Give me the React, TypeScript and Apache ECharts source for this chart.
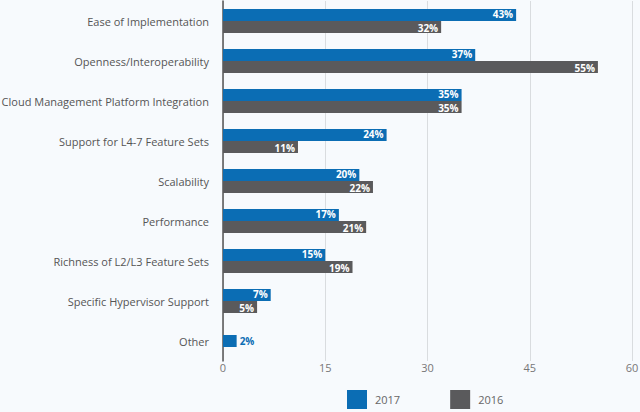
import React, { useEffect, useRef } from "react";
import * as echarts from "echarts";

const categories = [
  "Ease of Implementation",
  "Openness/Interoperability",
  "Cloud Management Platform Integration",
  "Support for L4-7 Feature Sets",
  "Scalability",
  "Performance",
  "Richness of L2/L3 Feature Sets",
  "Specific Hypervisor Support",
  "Other",
];
const values2017 = [43, 37, 35, 24, 20, 17, 15, 7, null];
const values2016 = [32, 55, 35, 11, 22, 21, 19, 5, null];
const valuesOther2017 = [null, null, null, null, null, null, null, null, 2];
const xTicks = { min: 0, max: 60, interval: 15 };

const BLUE = "#0b6db4";
const GRAY = "#5a5a5c";
const FONT = "'Open Sans', sans-serif";

export default function App() {
  const ref = useRef<HTMLDivElement>(null);
  useEffect(() => {
    if (!ref.current) return;
    const chart = echarts.init(ref.current, undefined, { renderer: "svg" });
    const innerLabel = (dy: number) => ({
      show: true,
      position: "insideRight",
      color: "#ffffff",
      fontWeight: "bold",
      fontSize: 10,
      lineHeight: 10,
      fontFamily: FONT,
      distance: 3,
      offset: [0, dy],
      formatter: (p: any) => `${p.value}%`,
    });
    chart.setOption({
      animation: false,
      backgroundColor: "#f7fafd",
      grid: {
        left: 223,
        right: 8,
        top: 1,
        bottom: 51,
        containLabel: false,
        outerBoundsMode: "none",
      },
      xAxis: {
        type: "value",
        min: xTicks.min,
        max: xTicks.max,
        interval: xTicks.interval,
        axisLine: { show: false },
        axisTick: { show: false },
        splitLine: { show: true, lineStyle: { color: "#d9dcdf", width: 1 } },
        axisLabel: { color: "#777", fontSize: 11, fontFamily: FONT, margin: 1 },
      },
      yAxis: [
        {
          type: "category",
          data: categories,
          inverse: true,
          axisLine: { show: true, lineStyle: { color: "#555", width: 1.5 } },
          axisTick: { show: false },
          axisLabel: { color: "#555", fontSize: 11, fontFamily: FONT, margin: 14 },
        },
        {
          type: "category",
          data: categories,
          inverse: true,
          show: false,
          position: "left",
        },
      ],
      legend: {
        data: ["2017", "2016"],
        bottom: -2,
        left: 342,
        itemWidth: 20,
        itemHeight: 19,
        itemGap: 50,
        icon: "rect",
        textStyle: { color: "#666", fontSize: 11, fontFamily: FONT, padding: [0, 0, 0, 3] },
      },
      series: [
        {
          name: "2017",
          type: "bar",
          data: values2017,
          barWidth: 12,
          barGap: "0%",
          itemStyle: { color: BLUE },
          label: innerLabel(-1),
        },
        {
          name: "2016",
          type: "bar",
          data: values2016,
          barWidth: 12,
          barGap: "0%",
          itemStyle: { color: GRAY },
          label: innerLabel(1),
        },
        {
          name: "2017",
          type: "bar",
          yAxisIndex: 1,
          data: valuesOther2017,
          barWidth: 12,
          itemStyle: { color: BLUE },
          label: {
            show: true,
            position: "right",
            color: BLUE,
            fontWeight: "bold",
            fontSize: 10,
            fontFamily: FONT,
            distance: 3,
            formatter: (p: any) => `${p.value}%`,
          },
        },
      ],
    });
    return () => chart.dispose();
  }, []);
  return <div ref={ref} style={{ width: 640, height: 412, position: "absolute", left: 0, top: 0 }} />;
}
